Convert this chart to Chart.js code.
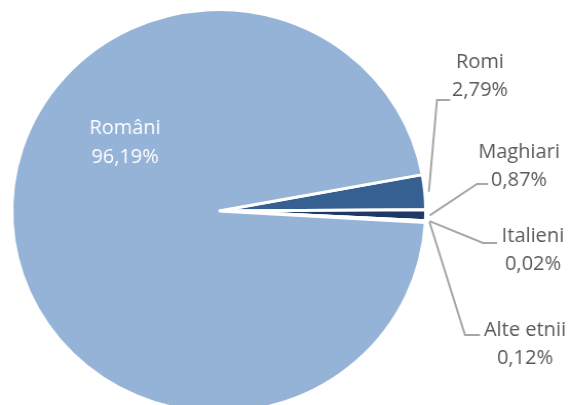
<!DOCTYPE html>
<html>
<head>
<meta charset="utf-8">
<script src="https://cdn.jsdelivr.net/npm/chart.js@4/dist/chart.umd.min.js"></script>
<style>
html,body{margin:0;padding:0;background:#fff;overflow:hidden;width:571px;height:405px;}
canvas{display:block;}
</style>
</head>
<body>
<canvas id="c" width="556" height="420" style="width:571px;height:420px"></canvas>
<script>
const categories = ["Romi", "Maghiari", "Italieni", "Alte etnii", "Români"];
const values = [2.79, 0.87, 0.02, 0.12, 96.19];
const valueLabels = ["2,79%", "0,87%", "0,02%", "0,12%", "96,19%"];
const colors = ["#376092", "#1F3864", "#2E4D7B", "#4A6FA5", "#95B3D7"];

const SX = 571 / 556; // horizontal stretch of the canvas (CSS px per canvas px)

// label layout in page pixels
const labelLayout = [
  {x: 480, y: 62, ex: 437, ey: 100, hx: 450, ext: 4},
  {x: 519, y: 152, ex: 477, ey: 184, hx: 488, ext: 4},
  {x: 533, y: 236, ex: 483, ey: 243, hx: 497, ext: 4},
  {x: 525, y: 330, ex: 465, ey: 335, hx: 480, ext: 4},
  null
];
const innerLabel = {x: 125, y: 128};

function drawText(ctx, txt, x, y) {
  ctx.save();
  ctx.translate(x / SX, y);
  ctx.scale(1 / SX, 1);
  ctx.fillText(txt, 0, 0);
  ctx.restore();
}

const labelPlugin = {
  id: 'pieLabels',
  afterDatasetsDraw(chart) {
    const ctx = chart.ctx;
    const meta = chart.getDatasetMeta(0);
    ctx.save();
    ctx.font = '20px "Open Sans"';
    ctx.textAlign = 'center';
    ctx.textBaseline = 'middle';
    meta.data.forEach((arc, i) => {
      const p = arc.getProps(['x','y','startAngle','endAngle','outerRadius'], true);
      const lay = labelLayout[i];
      if (!lay) {
        ctx.fillStyle = '#ffffff';
        drawText(ctx, categories[i], innerLabel.x, innerLabel.y);
        drawText(ctx, valueLabels[i], innerLabel.x, innerLabel.y + 29);
        return;
      }
      const mid = (p.startAngle + p.endAngle) / 2;
      const r = p.outerRadius + lay.ext;
      const ax = p.x + Math.cos(mid) * r;
      const ay = p.y + Math.sin(mid) * r;
      ctx.strokeStyle = '#A6A6A6';
      ctx.lineWidth = 2;
      ctx.beginPath();
      ctx.moveTo(ax, ay);
      ctx.lineTo(lay.ex / SX, lay.ey);
      ctx.lineTo(lay.hx / SX, lay.ey);
      ctx.stroke();
      ctx.fillStyle = '#595959';
      drawText(ctx, categories[i], lay.x, lay.y);
      drawText(ctx, valueLabels[i], lay.x, lay.y + 28);
    });
    ctx.restore();
  }
};

new Chart(document.getElementById('c'), {
  type: 'pie',
  data: {
    labels: categories,
    datasets: [{
      data: values,
      backgroundColor: colors,
      borderColor: '#ffffff',
      borderWidth: 3
    }]
  },
  options: {
    responsive: false,
    animation: false,
    devicePixelRatio: 1,
    rotation: 79.6,
    layout: {padding: {left: 10, right: 140, top: 8, bottom: 6}},
    plugins: {legend: {display: false}, tooltip: {enabled: false}}
  },
  plugins: [labelPlugin]
});
</script>
</body>
</html>
